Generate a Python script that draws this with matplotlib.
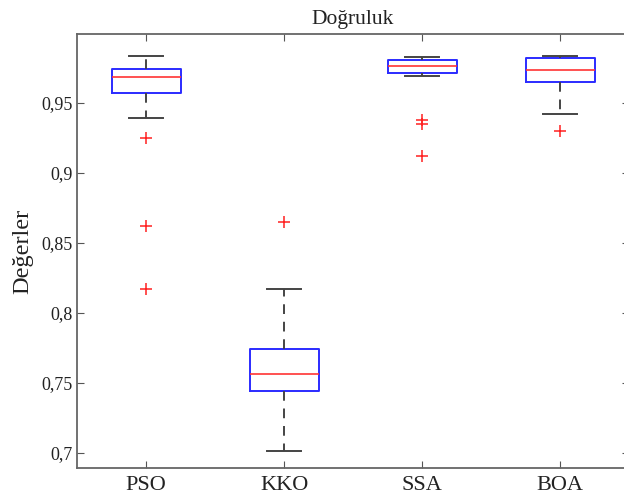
import matplotlib
matplotlib.use("Agg")
import matplotlib.pyplot as plt
from matplotlib.ticker import FuncFormatter

algorithms = ["PSO", "KKO", "SSA", "BOA"]
whisker_low = [0.9393, 0.7014, 0.9691, 0.9421]
q1 = [0.9571, 0.7443, 0.9710, 0.9646]
median = [0.9686, 0.7562, 0.9762, 0.9734]
q3 = [0.9739, 0.7738, 0.9803, 0.9817]
whisker_high = [0.9834, 0.8167, 0.9824, 0.9834]
outliers = [
    [0.9250, 0.8619, 0.8167],
    [0.8646],
    [0.9376, 0.9348, 0.9119],
    [0.9298],
]

plt.rcParams["font.family"] = ["Liberation Serif", "DejaVu Serif"]

stats = []
for i, name in enumerate(algorithms):
    stats.append({
        "label": name,
        "whislo": whisker_low[i],
        "q1": q1[i],
        "med": median[i],
        "q3": q3[i],
        "whishi": whisker_high[i],
        "fliers": outliers[i],
    })

fig = plt.figure(figsize=(6.24, 4.99), dpi=100)
ax = fig.add_axes([0.1234, 0.0621, 0.885, 0.8698])

ax.bxp(stats, positions=[1, 2, 3, 4], widths=0.5, capwidths=0.25,
       boxprops=dict(color="#2b2bff", linewidth=1.4),
       medianprops=dict(color="#ff3333", linewidth=1.2),
       whiskerprops=dict(color="#444444", linewidth=1.4, linestyle=(0, (5, 4))),
       capprops=dict(color="#444444", linewidth=1.4),
       flierprops=dict(marker="+", markeredgecolor="#ff2020", markersize=9,
                       markeredgewidth=1.1, linestyle="none"))

ax.set_xlim(0.5, 4.5)
ax.set_ylim(0.689, 0.999)
ax.set_yticks([0.7, 0.75, 0.8, 0.85, 0.9, 0.95])
ax.yaxis.set_major_formatter(FuncFormatter(lambda v, p: ("%g" % round(v, 2)).replace(".", ",")))
ax.tick_params(axis="y", direction="in", length=5, labelsize=13, right=True, colors="#555555",
               labelcolor="#222222", pad=3)
ax.tick_params(axis="x", direction="in", length=5, labelsize=16, top=True, colors="#555555",
               labelcolor="#222222", pad=6)
for s in ax.spines.values():
    s.set_color("#666666")
    s.set_linewidth(1.3)

ax.set_title("Doğruluk", fontsize=15.5, pad=7, color="#222222")
ax.set_ylabel("Değerler", fontsize=17.5, labelpad=6, color="#222222")

fig.savefig("out.png", dpi=100)
